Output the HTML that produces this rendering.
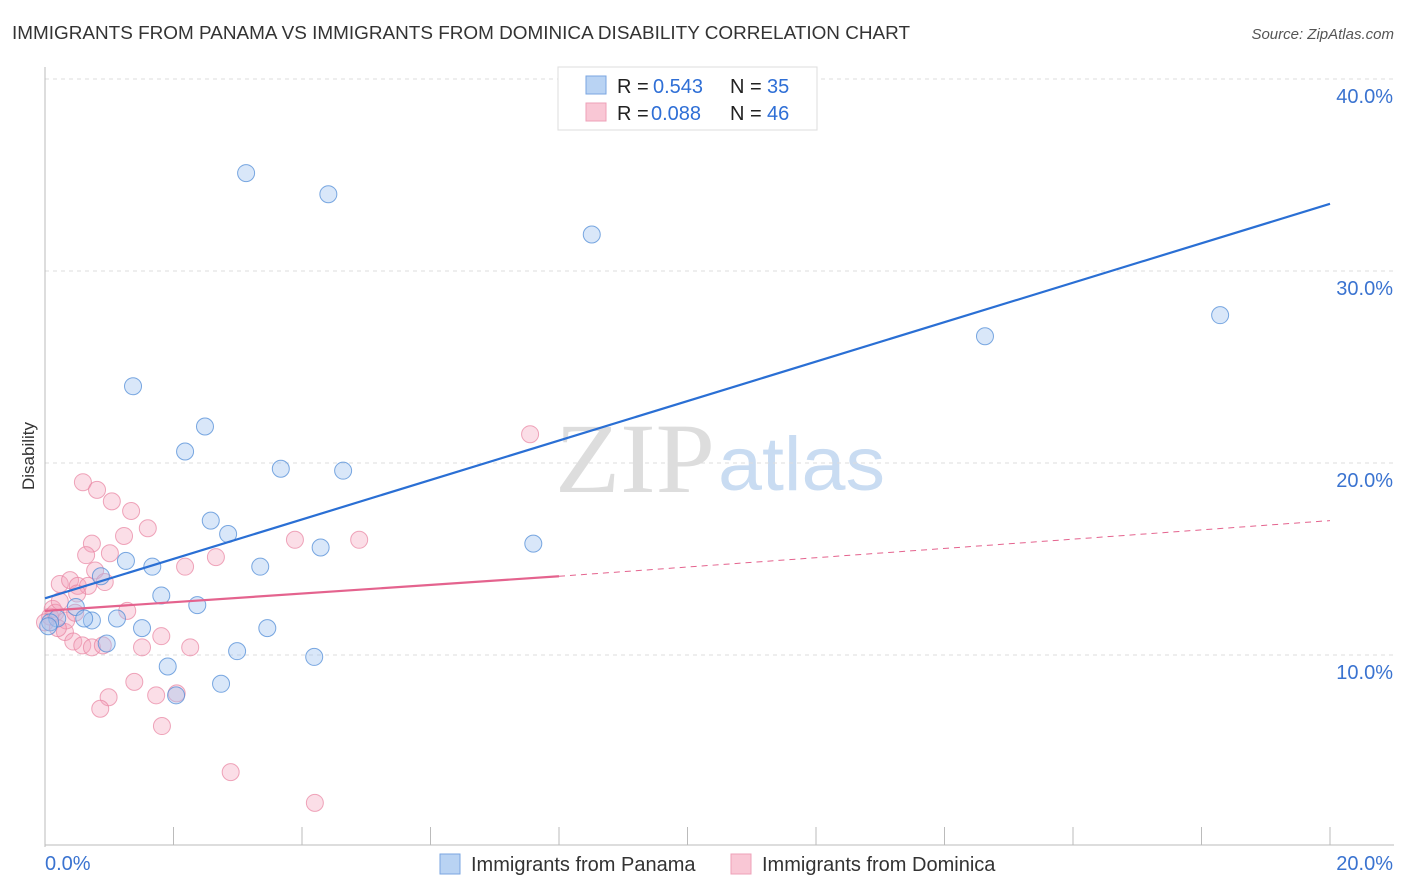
<!DOCTYPE html>
<html><head><meta charset="utf-8"><style>
body{margin:0;background:#fff;font-family:"Liberation Sans",sans-serif;}
</style></head><body>
<svg id="chart" width="1406" height="892" xmlns="http://www.w3.org/2000/svg" style="display:block">
<text x="12" y="39" font-size="18" fill="#333" textLength="898" lengthAdjust="spacingAndGlyphs">IMMIGRANTS FROM PANAMA VS IMMIGRANTS FROM DOMINICA DISABILITY CORRELATION CHART</text>
<text x="1394" y="39" font-size="15" fill="#555" text-anchor="end" font-style="italic">Source: ZipAtlas.com</text>
<text transform="translate(34,456) rotate(-90)" font-size="17" fill="#333" text-anchor="middle">Disability</text>
<text x="555" y="492" font-size="100" fill="#ddd" font-family="Liberation Serif,serif" textLength="160" lengthAdjust="spacingAndGlyphs">ZIP</text>
<text x="718" y="490" font-size="76" fill="#c9dcf2" textLength="167" lengthAdjust="spacingAndGlyphs">atlas</text>
<g id="grid"></g><g id="marks"></g>
<g>
<rect x="558" y="67" width="259" height="63" fill="#fff" stroke="#ddd"/>
<rect x="586" y="76" width="20" height="18" fill="#b9d3f3" stroke="#7aa6e0"/>
<rect x="586" y="103" width="20" height="18" fill="#f9c7d5" stroke="#eea0b8"/>
<text x="617" y="93" font-size="20" fill="#222">R =</text><text x="653" y="93" font-size="20" fill="#2f6fd6">0.543</text>
<text x="730" y="93" font-size="20" fill="#222">N =</text><text x="767" y="93" font-size="20" fill="#2f6fd6">35</text>
<text x="617" y="120" font-size="20" fill="#222">R =</text><text x="651" y="120" font-size="20" fill="#2f6fd6">0.088</text>
<text x="730" y="120" font-size="20" fill="#222">N =</text><text x="767" y="120" font-size="20" fill="#2f6fd6">46</text>
</g>
<g>
<rect x="440" y="854" width="20" height="20" fill="#b9d3f3" stroke="#7aa6e0"/>
<text x="471" y="871" font-size="20" fill="#333">Immigrants from Panama</text>
<rect x="731" y="854" width="20" height="20" fill="#f9c7d5" stroke="#eea0b8"/>
<text x="762" y="871" font-size="20" fill="#333">Immigrants from Dominica</text>
</g>
</svg>
<script>
const xTicks=[0,20];
const yTicks=[10,20,30,40];
const blueX=[3.13,4.41,8.51,14.63,18.29,1.37,2.49,2.18,3.67,4.64,2.58,2.85,7.60,4.29,1.26,1.67,3.35,0.87,1.81,2.37,0.48,1.12,0.73,0.61,0.19,1.51,3.46,0.96,2.99,4.19,1.91,2.74,2.04,0.08,0.05];
const blueY=[35.1,34.0,31.9,26.6,27.7,24.0,21.9,20.6,19.7,19.6,17.0,16.3,15.8,15.6,14.9,14.6,14.6,14.1,13.1,12.6,12.5,11.9,11.8,11.9,11.9,11.4,11.4,10.6,10.2,9.9,9.4,8.5,7.9,11.7,11.5];
const pinkX=[0.59,0.81,1.04,1.34,1.60,0.73,1.23,0.64,1.01,0.78,0.93,0.23,0.39,0.51,0.67,0.50,1.28,0.12,0.08,0.31,0.44,0.58,0.73,0.90,1.81,1.51,2.26,2.18,2.66,3.89,4.89,1.39,0.99,0.86,1.73,2.05,1.82,2.89,4.20,7.55,0.16,0.00,0.23,0.33,0.20,0.47];
const pinkY=[19.0,18.6,18.0,17.5,16.6,15.8,16.2,15.2,15.3,14.4,13.8,13.7,13.9,13.6,13.6,13.2,12.3,12.4,12.0,11.2,10.7,10.5,10.4,10.5,10.98,10.4,10.4,14.6,15.1,16.0,16.0,8.6,7.8,7.2,7.9,8.0,6.3,3.9,2.3,21.5,12.2,11.7,12.8,11.8,11.4,12.2];
const blueLine=[0,12.95,20,33.5];
const pinkLine=[0,12.3,8,14.1,20,17.0];
const X=v=>45+v/20*1285, Y=v=>847-v*19.2;
const NS="http://www.w3.org/2000/svg";
const grid=document.getElementById('grid'), marks=document.getElementById('marks');
function el(t,a,p){const e=document.createElementNS(NS,t);for(const k in a)e.setAttribute(k,a[k]);p.appendChild(e);return e;}
yTicks.forEach(t=>{
 const l=el('line',{x1:45,x2:1394,y1:Y(t),y2:Y(t),stroke:'#ddd','stroke-dasharray':'4,4'},grid);
 
 
 const tx=el('text',{x:1393,y:Y(t)+24,'font-size':20,fill:'#3a73d0','text-anchor':'end'},grid);
 tx.textContent=t.toFixed(1)+'%';
 
 
});
const ax=el('line',{x1:45,x2:45,y1:67,y2:847,stroke:'#bbb'},grid);


const bx=el('line',{x1:45,x2:1394,y1:845,y2:845,stroke:'#bbb'},grid);


for(let i=0;i<=10;i++){const tk=el('line',{x1:X(i*2),x2:X(i*2),y1:827,y2:845,stroke:'#bbb'},grid);
 
 }
xTicks.forEach((t,i)=>{const tx=el('text',{x:i?1393:45,y:870,'font-size':20,fill:'#3a73d0','text-anchor':i?'end':'start'},grid);
 tx.textContent=t.toFixed(1)+'%';
 
 });
pinkX.forEach((v,i)=>{const c=el('circle',{cx:X(v),cy:Y(pinkY[i]),r:8.5,fill:'rgba(244,160,185,0.35)',stroke:'rgba(232,130,160,0.7)'},marks);
 
 });
blueX.forEach((v,i)=>{const c=el('circle',{cx:X(v),cy:Y(blueY[i]),r:8.5,fill:'rgba(160,195,240,0.4)',stroke:'rgba(80,140,215,0.75)'},marks);
 
 });
const bl=el('line',{x1:X(blueLine[0]),y1:Y(blueLine[1]),x2:X(blueLine[2]),y2:Y(blueLine[3]),stroke:'#2a6fd4','stroke-width':2.2},marks);


const pl=el('line',{x1:X(pinkLine[0]),y1:Y(pinkLine[1]),x2:X(pinkLine[2]),y2:Y(pinkLine[3]),stroke:'#e4638e','stroke-width':2.2},marks);


const pd=el('line',{x1:X(pinkLine[2]),y1:Y(pinkLine[3]),x2:X(pinkLine[4]),y2:Y(pinkLine[5]),stroke:'#e4638e','stroke-width':1,'stroke-dasharray':'6,5'},marks);


</script>
</body></html>
